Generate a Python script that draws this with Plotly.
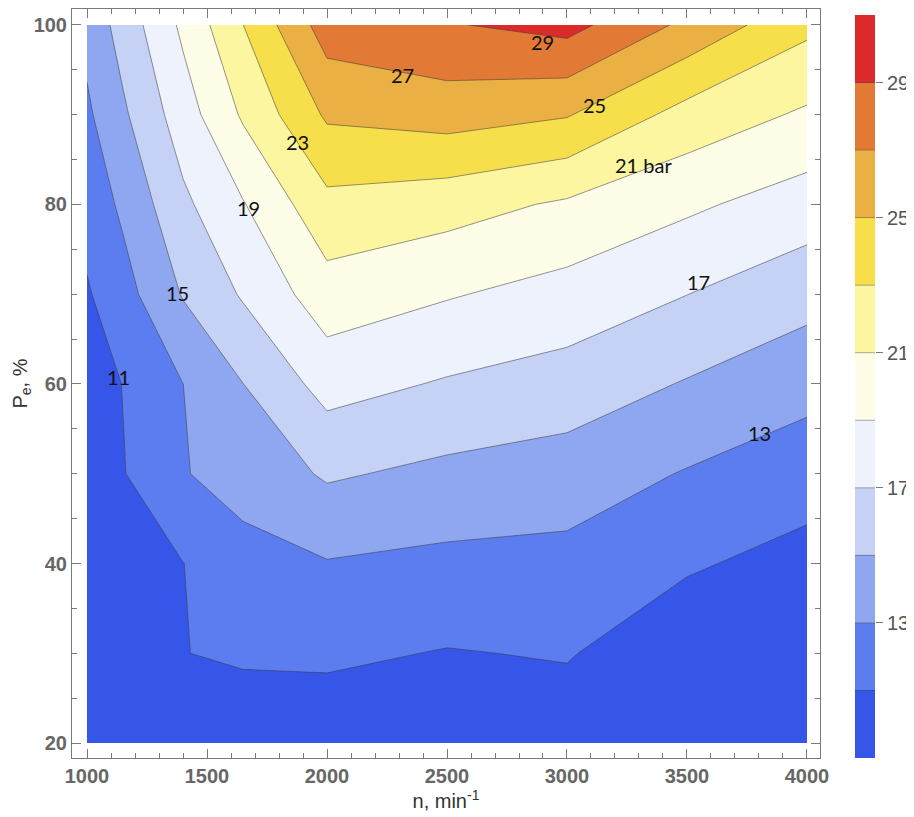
import plotly.graph_objects as go

# ---- data ----
n_rpm = [1000, 1150, 1400, 1650, 2000, 2500, 3000, 3500, 4000]
load_pct = [20, 30, 40, 50, 60, 70, 80, 90, 100]

bmep_p20 = [9.0, 10.0, 10.5, 10.04, 9.79, 9.29, 9.88, 8.0, 7.1]
bmep_p30 = [9.1, 10.4, 10.97, 11.21, 11.34, 10.90, 11.14, 9.62, 8.7]
bmep_p40 = [9.3, 10.7, 10.97, 12.38, 12.89, 12.52, 12.40, 11.24, 10.31]
bmep_p50 = [9.5, 10.9, 12.9, 13.7, 15.25, 14.52, 14.05, 12.87, 11.91]
bmep_p60 = [9.87, 11.05, 12.99, 14.98, 17.75, 16.81, 16.13, 14.86, 13.64]
bmep_p70 = [10.80, 12.25, 15.14, 17.21, 20.14, 19.16, 18.26, 17.02, 15.71]
bmep_p80 = [11.73, 13.37, 16.58, 18.87, 22.44, 21.8, 20.71, 19.35, 18.05]
bmep_p90 = [12.66, 14.68, 18.04, 21.26, 25.30, 25.87, 25.14, 22.26, 20.70]
bmep_p100 = [13.6, 15.8, 19.4, 22.98, 28.0, 28.85, 29.68, 26.55, 23.47]
bmep_grid = [bmep_p20, bmep_p30, bmep_p40, bmep_p50, bmep_p60,
             bmep_p70, bmep_p80, bmep_p90, bmep_p100]

levels = [11, 13, 15, 17, 19, 21, 23, 25, 27, 29]
band_colors = ["#3655e9", "#5c7def", "#8fa7f1", "#c5d2f6", "#eef2fc",
               "#fefde8", "#fdf6a0", "#f7df4c", "#eab043", "#e27a35", "#dc2a2b"]

label_text = ["11", "15", "19", "23", "27", "29", "25", "21 bar", "17", "13"]
label_n = [1133, 1375, 1671, 1875, 2313, 2896, 3113, 3317, 3546, 3804]
label_p = [60.8, 70.1, 79.6, 87.0, 94.4, 98.1, 91.1, 84.4, 71.4, 54.5]

x_ticks = [1000, 1500, 2000, 2500, 3000, 3500, 4000]
y_ticks = [20, 40, 60, 80, 100]
cbar_ticks = [13, 17, 21, 25, 29]

# ---- figure ----
# the page body has an 8 px margin, so the figure is drawn 8 px in from the window
OFF = 8
WIN_W, WIN_H = 914, 817
W, H = WIN_W - OFF, WIN_H - OFF


def dom_x(a, b):
    return [(a - OFF) / W, (b - OFF) / W]


def dom_y(top, bottom):
    return [(WIN_H - bottom) / H, (WIN_H - top) / H]


nb = len(band_colors)
colorscale = [[i / (nb - 1), c] for i, c in enumerate(band_colors)]
step = levels[1] - levels[0]

fig = go.Figure()
fig.add_trace(go.Contour(
    x=n_rpm, y=load_pct, z=bmep_grid,
    colorscale=colorscale, showscale=False,
    contours=dict(start=levels[0], end=levels[-1], size=step,
                  coloring="fill", showlines=True),
    line=dict(color="rgba(60,60,60,0.55)", width=1, smoothing=0),
    hoverinfo="skip",
))

# custom colour legend (bar) on its own axes
centers = [levels[0] - step / 2] + [l + step / 2 for l in levels]
fig.add_trace(go.Heatmap(
    x=[0], y=centers, z=[[c] for c in centers],
    colorscale=colorscale, zmin=centers[0], zmax=centers[-1],
    showscale=False, xaxis="x2", yaxis="y2", hoverinfo="skip",
))
bx, by = [], []
for l in levels:
    bx += [-0.5, 0.5, None]
    by += [l, l, None]
fig.add_trace(go.Scatter(x=bx, y=by, mode="lines", xaxis="x2", yaxis="y2",
                         line=dict(color="rgba(70,70,70,0.45)", width=1),
                         hoverinfo="skip", showlegend=False))

for t, xn, yp in zip(label_text, label_n, label_p):
    fig.add_annotation(x=xn, y=yp, xref="x", yref="y", text=t, showarrow=False,
                       font=dict(family="Lato", size=20, color="#111"))

tick_font = dict(family="Liberation Sans", size=20, color="#666", weight="bold")
cbar_font = dict(family="Liberation Sans", size=20, color="#555")
title_font = dict(family="Liberation Sans", size=20, color="#333")
axcol = "#7a7a7a"

fig.update_layout(
    width=W, height=H, margin=dict(l=0, r=0, t=0, b=0, autoexpand=False),
    plot_bgcolor="white", paper_bgcolor="white", showlegend=False,
    xaxis=dict(domain=dom_x(72, 820), range=[937.5, 4054.2], automargin=False,
               tickvals=x_ticks, ticks="inside", ticklen=9, tickcolor=axcol,
               showline=True, linecolor=axcol, linewidth=1, mirror="ticks",
               showgrid=False, zeroline=False,
               minor=dict(ticks="inside", dtick=100, ticklen=5, tickcolor=axcol,
                          showgrid=False),
               tickfont=tick_font,
               title=dict(text="n, min<sup>-1</sup>", font=title_font, standoff=6)),
    yaxis=dict(domain=dom_y(9, 758), range=[18.33, 101.78],
               automargin=False,
               tickvals=y_ticks, ticks="inside", ticklen=9, tickcolor=axcol,
               showline=True, linecolor=axcol, linewidth=1, mirror="ticks",
               showgrid=False, zeroline=False,
               minor=dict(ticks="inside", dtick=5, ticklen=5, tickcolor=axcol,
                          showgrid=False),
               tickfont=tick_font,
               title=dict(text="P<sub>e</sub>, %", font=title_font, standoff=0)),
    xaxis2=dict(domain=dom_x(855, 875), range=[-0.5, 0.5], anchor="y2",
                automargin=False,
                showticklabels=False, ticks="", showline=False, showgrid=False,
                zeroline=False),
    yaxis2=dict(domain=dom_y(15, 758), range=[9, 31], anchor="x2",
                automargin=False,
                side="right", tickvals=cbar_ticks, ticks="outside", ticklen=7,
                tickcolor=axcol, showline=False, showgrid=False, zeroline=False,
                tickfont=cbar_font),
)

fig.write_html("out.html")
